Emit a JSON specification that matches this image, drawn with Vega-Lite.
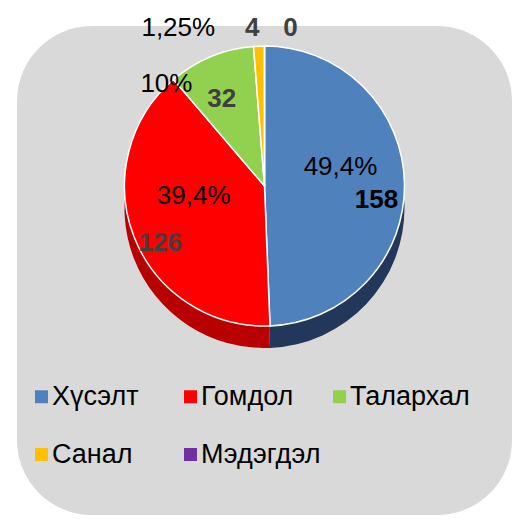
{
  "$schema": "https://vega.github.io/schema/vega-lite/v6.json",
  "autosize": {"type": "fit", "contains": "padding"},
  "width": 513,
  "height": 519,
  "padding": {"left": 17, "top": 15, "right": 1, "bottom": 4},
  "background": "white",
  "data": {
    "values": [
      {"category": "Хүсэлт", "count": 158, "pct": "49,4%"},
      {"category": "Гомдол", "count": 126, "pct": "39,4%"},
      {"category": "Талархал", "count": 32, "pct": "10%"},
      {"category": "Санал", "count": 4, "pct": "1,25%"},
      {"category": "Мэдэгдэл", "count": 0, "pct": "0%"}
    ]
  },
  "encoding": {
    "theta": {"field": "count", "type": "quantitative", "stack": true},
    "order": {"field": "count", "type": "quantitative", "sort": "descending"},
    "detail": {"field": "category", "type": "nominal"},
    "y": {"value": 160}
  },
  "layer": [
    {
      "mark": {"type": "arc", "radius": 140, "yOffset": 22},
      "encoding": {
        "color": {
          "field": "category", "type": "nominal", "legend": null,
          "scale": {
            "domain": ["Хүсэлт", "Гомдол", "Талархал", "Санал", "Мэдэгдэл"],
            "range": ["#22375a", "#b80000", "#6a9a38", "#c09000", "#502070"]
          }
        }
      }
    },
    {
      "mark": {"type": "arc", "radius": 140, "stroke": "white", "strokeWidth": 1.5},
      "encoding": {
        "color": {
          "field": "category", "type": "nominal",
          "sort": ["Хүсэлт", "Гомдол", "Талархал", "Санал", "Мэдэгдэл"],
          "scale": {
            "domain": ["Хүсэлт", "Гомдол", "Талархал", "Санал", "Мэдэгдэл"],
            "range": ["#4f81bd", "#ff0000", "#92d050", "#ffc000", "#7030a0"]
          },
          "legend": {
            "title": null,
            "orient": "none",
            "legendX": 11,
            "legendY": 357,
            "direction": "horizontal",
            "columns": 3,
            "gridAlign": "all",
            "columnPadding": 5,
            "rowPadding": 30,
            "symbolType": "square",
            "symbolSize": 169,
            "symbolStrokeWidth": 0,
            "labelFontSize": 27,
            "labelColor": "black",
            "labelOffset": -3,
            "labelFont": "Liberation Sans",
            "padding": 0
          }
        }
      }
    },
    {
      "mark": {"type": "text", "radius": 76, "dy": -18, "fontSize": 26, "font": "Liberation Sans", "color": "black"},
      "encoding": {
        "text": {"condition": {"test": "datum.count >= 100", "field": "pct", "type": "nominal"}, "value": ""}
      }
    },
    {
      "mark": {"type": "text", "radius": 112, "dy": 16, "fontSize": 26, "fontWeight": "bold", "font": "Liberation Sans"},
      "encoding": {
        "text": {"condition": {"test": "datum.count >= 30", "field": "count", "type": "quantitative"}, "value": ""},
        "color": {"condition": {"test": "datum.count == 158", "value": "black"}, "value": "#404040"}
      }
    },
    {
      "mark": {"type": "text", "radius": 110, "dx": -56, "fontSize": 26, "font": "Liberation Sans", "color": "black"},
      "encoding": {
        "text": {"condition": {"test": "datum.count == 32", "field": "pct", "type": "nominal"}, "value": ""}
      }
    },
    {
      "mark": {"type": "text", "radius": 158, "dx": -80, "fontSize": 26, "font": "Liberation Sans", "color": "black"},
      "encoding": {
        "text": {"condition": {"test": "datum.count == 4", "field": "pct", "type": "nominal"}, "value": ""}
      }
    },
    {
      "mark": {"type": "text", "radius": 158, "dx": -6, "fontSize": 26, "fontWeight": "bold", "font": "Liberation Sans", "color": "#404040"},
      "encoding": {
        "text": {"condition": {"test": "datum.count == 4", "field": "count", "type": "quantitative"}, "value": ""}
      }
    },
    {
      "mark": {"type": "text", "radius": 158, "dx": 26, "fontSize": 26, "fontWeight": "bold", "font": "Liberation Sans", "color": "#404040"},
      "encoding": {
        "text": {"condition": {"test": "datum.count == 0", "field": "count", "type": "quantitative"}, "value": ""}
      }
    }
  ],
  "resolve": {"scale": {"color": "independent"}, "legend": {"color": "independent"}},
  "config": {
    "font": "Liberation Sans",
    "view": {"fill": "#d9d9d9", "stroke": null, "cornerRadius": 75}
  }
}
